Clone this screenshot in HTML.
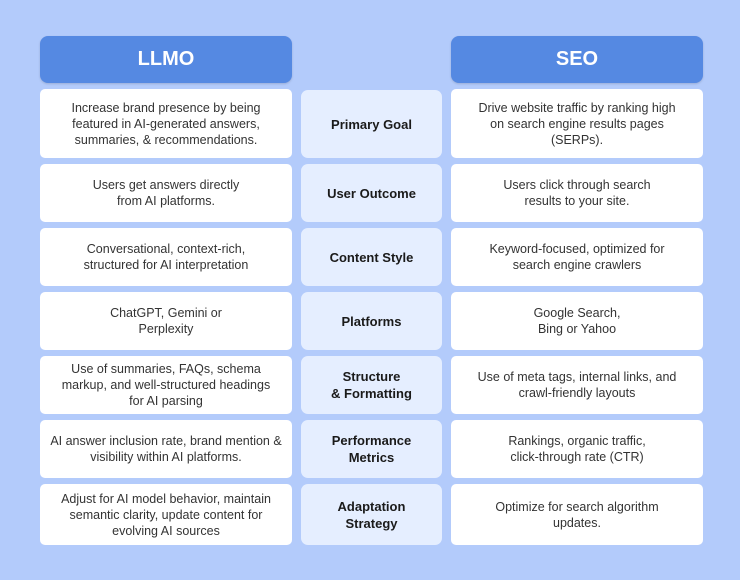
<!DOCTYPE html>
<html><head><style>
body{margin:0;width:740px;height:580px;background:#b3cbfb;font-family:"Liberation Sans",sans-serif;position:relative;overflow:hidden}
.b{position:absolute;display:flex;align-items:center;justify-content:center;text-align:center;box-sizing:border-box;border-radius:5px}
.h{background:#5589e2;color:#fff;font-size:20px;font-weight:bold;border-radius:8px;box-shadow:0 1px 2px rgba(0,0,0,.15)}
.w{background:#fff;color:#333;font-size:12.5px;line-height:16px;padding:0 6px;white-space:nowrap}
.m{background:#e5eeff;color:#1a1a1a;font-weight:bold;font-size:13px;line-height:17px;border-radius:7px}
</style></head><body>
<div class="b h" style="left:40px;top:36px;width:252px;height:47px">LLMO</div>
<div class="b h" style="left:451px;top:36px;width:252px;height:47px">SEO</div>

<div class="b w" style="left:40px;top:89px;width:252px;height:69px">Increase brand presence by being<br>featured in AI-generated answers,<br>summaries, &amp; recommendations.</div>
<div class="b m" style="left:301px;top:90px;width:141px;height:68px">Primary Goal</div>
<div class="b w" style="left:451px;top:89px;width:252px;height:69px">Drive website traffic by ranking high<br>on search engine results pages<br>(SERPs).</div>

<div class="b w" style="left:40px;top:164px;width:252px;height:58px">Users get answers directly<br>from AI platforms.</div>
<div class="b m" style="left:301px;top:164px;width:141px;height:58px">User Outcome</div>
<div class="b w" style="left:451px;top:164px;width:252px;height:58px">Users click through search<br>results to your site.</div>

<div class="b w" style="left:40px;top:228px;width:252px;height:58px">Conversational, context-rich,<br>structured for AI interpretation</div>
<div class="b m" style="left:301px;top:228px;width:141px;height:58px">Content Style</div>
<div class="b w" style="left:451px;top:228px;width:252px;height:58px">Keyword-focused, optimized for<br>search engine crawlers</div>

<div class="b w" style="left:40px;top:292px;width:252px;height:58px">ChatGPT, Gemini or<br>Perplexity</div>
<div class="b m" style="left:301px;top:292px;width:141px;height:58px">Platforms</div>
<div class="b w" style="left:451px;top:292px;width:252px;height:58px">Google Search,<br>Bing or Yahoo</div>

<div class="b w" style="left:40px;top:356px;width:252px;height:58px">Use of summaries, FAQs, schema<br>markup, and well-structured headings<br>for AI parsing</div>
<div class="b m" style="left:301px;top:356px;width:141px;height:58px">Structure<br>&amp; Formatting</div>
<div class="b w" style="left:451px;top:356px;width:252px;height:58px">Use of meta tags, internal links, and<br>crawl-friendly layouts</div>

<div class="b w" style="left:40px;top:420px;width:252px;height:58px">AI answer inclusion rate, brand mention &amp;<br>visibility within AI platforms.</div>
<div class="b m" style="left:301px;top:420px;width:141px;height:58px">Performance<br>Metrics</div>
<div class="b w" style="left:451px;top:420px;width:252px;height:58px">Rankings, organic traffic,<br>click-through rate (CTR)</div>

<div class="b w" style="left:40px;top:484px;width:252px;height:61px">Adjust for AI model behavior, maintain<br>semantic clarity, update content for<br>evolving AI sources</div>
<div class="b m" style="left:301px;top:484px;width:141px;height:61px">Adaptation<br>Strategy</div>
<div class="b w" style="left:451px;top:484px;width:252px;height:61px">Optimize for search algorithm<br>updates.</div>
</body></html>
